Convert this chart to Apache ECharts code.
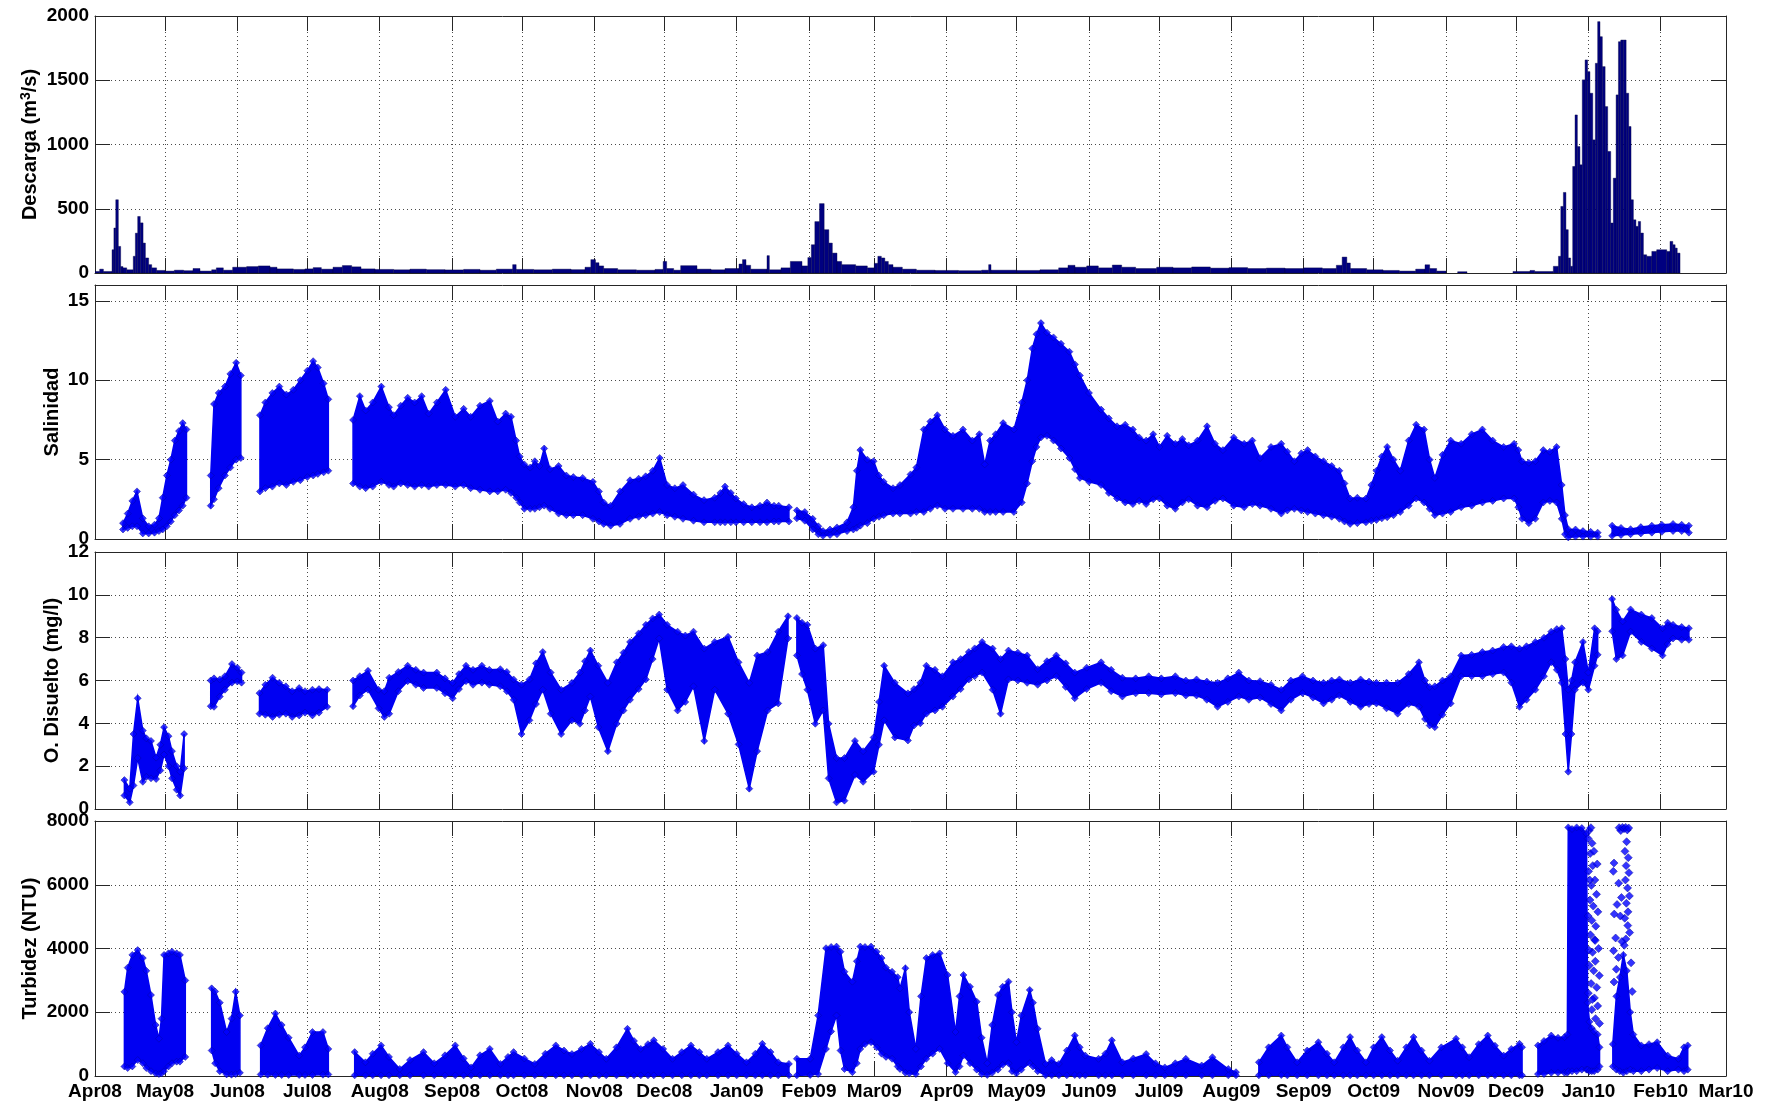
<!DOCTYPE html>
<html><head><meta charset="utf-8">
<script src="https://cdn.jsdelivr.net/npm/echarts@6/dist/echarts.min.js"></script>
<style>html,body{margin:0;padding:0;background:#fff}#c{width:1772px;height:1106px}</style>
</head><body><div id="c"></div>
<script>
// ---- x axis: days since 1 Apr 2008 ----
const monthDays = [0,30,61,91,122,153,183,214,244,275,306,334,365,395,426,456,487,518,548,579,609,640,671,699];
const monthLabels = ['Apr08','May08','Jun08','Jul08','Aug08','Sep08','Oct08','Nov08','Dec08','Jan09','Feb09','Mar09','Apr09','May09','Jun09','Jul09','Aug09','Sep09','Oct09','Nov09','Dec09','Jan10','Feb10','Mar10'];

// ---- y tick values ----
const dqTicks = [0,500,1000,1500,2000];
const salTicks = [0,5,10,15];
const odTicks = [0,2,4,6,8,10,12];
const tuTicks = [0,2000,4000,6000,8000];

// ---- Descarga: [start day, value] steps (each holds until next start) ----
const discharge = [[0,12],[2,30],[3.6,12],[7.3,181],[8.1,350],[8.9,570],[10,207],[11,50],[12,40],[13.6,25],[16.4,130],[17.3,310],[18.3,440],[19.4,390],[20.6,233],[21.6,117],[23,65],[24.3,40],[26.4,20],[30,15],[34,22],[38,18],[42,35],[45,15],[50,25],[52,40],[55,22],[59,45],[65,50],[70,55],[75,45],[78,32],[85,28],[90,32],[93.5,42],[97,30],[102,45],[106,58],[110,48],[114,32],[120,28],[128,25],[135,30],[142,26],[150,24],[158,28],[165,22],[172,30],[179,65],[180.5,28],[188,25],[196,30],[204,26],[210,45],[212.5,104],[214.5,80],[216,55],[218,35],[224,25],[232,22],[240,28],[243.5,90],[245,35],[248,22],[251,57],[258,30],[264,25],[270,35],[276,70],[277.5,104],[279,60],[281,30],[288,135],[289,25],[294,40],[298,90],[303,55],[305.5,120],[307,220],[308.5,400],[310.5,540],[312.5,337],[314.5,233],[316,155],[318,90],[320,65],[326,55],[331,40],[334,75],[335.5,130],[337,117],[338.5,90],[340,65],[342,45],[346,30],[352,22],[360,20],[370,18],[380,22],[383,65],[384,22],[395,20],[405,25],[413,40],[417,60],[420,45],[425,55],[430,40],[436,62],[440,45],[446,35],[455,45],[462,40],[470,47],[478,38],[486,42],[494,35],[502,38],[510,35],[518,40],[526,35],[532,60],[534.5,124],[536.5,78],[538,35],[545,25],[552,20],[559,15],[566,30],[570,64],[572,35],[575,15],[579,0],[584,10],[588,0],[607.7,12],[615,20],[617,12],[625,52],[627.2,130],[628.2,518],[629.3,627],[630.4,337],[631.4,117],[632.4,52],[633.3,829],[634.3,1230],[635.3,984],[636.4,842],[637.4,1503],[638.6,1658],[639.7,1567],[640.7,1399],[641.9,1036],[643,1632],[644,1956],[645,1839],[646,1606],[647.2,1295],[648.3,946],[649.6,389],[650.7,738],[651.9,1386],[652.9,1800],[653.9,1813],[655,1813],[656.2,1399],[657.3,1140],[658.3,570],[659.3,414],[660.4,363],[661.4,401],[662.4,311],[663.6,142],[665,130],[667.2,168],[669.3,181],[673.6,168],[675,246],[676.2,220],[677.2,194],[678.1,155],[679.3,0]];

// ---- Salinidad: [day, low, high]; null rows = gaps ----
const salinity = [[12,0.6,1.0],[14,0.7,1.6],[16,0.8,2.4],[18,0.8,3.0],[20.5,0.35,1.3],[23,0.35,0.8],[25.5,0.4,0.9],[27.4,0.5,1.3],[29,0.6,2.6],[30.8,0.8,4.0],[32.5,1.1,5.0],[34.2,1.5,6.2],[36,1.8,6.8],[37.6,2.1,7.3],[39.2,2.6,6.9],
[44,null,null],
[49.6,2.1,4.0],[51,2.5,8.5],[53,3.2,9.2],[55.7,4.0,9.6],[58,4.5,10.4],[60.5,5.0,11.1],[62.5,5.1,10.3],
[66,null,null],
[70.7,3.0,7.8],[73,3.2,8.6],[76,3.3,9.2],[79,3.5,9.6],[82,3.4,9.1],[85,3.6,9.4],[88,3.7,10.0],[91,3.9,10.6],[93.5,4.0,11.2],[95.5,4.1,10.8],[98,4.2,9.8],[100,4.3,8.8],
[105,null,null],
[110.6,3.5,7.5],[113.5,3.3,9.0],[116,3.2,8.1],[119,3.3,8.6],[122.7,3.6,9.6],[126,3.4,8.3],[128,3.3,7.8],[131,3.5,8.4],[134,3.4,8.9],[137,3.3,8.6],[140,3.4,9.0],[143,3.3,7.9],[146.5,3.4,8.6],[150.3,3.4,9.4],[154.4,3.3,7.7],[158,3.4,8.2],[161,3.2,7.7],[165,3.1,8.4],[169.2,3.0,8.7],[172.6,3.0,7.4],[176,3.1,7.9],[178.3,2.9,7.7],[180.5,2.6,6.2],
[182,2.3,5.2],[184,1.9,4.7],[186.5,1.9,4.5],[188.5,1.9,4.9],[190.5,2.0,4.6],[192.5,2.1,5.7],[195,1.9,4.4],[198.7,1.6,4.6],[202,1.5,4.0],[205,1.5,3.9],[209,1.5,3.85],[213.4,1.27,3.6],[216,1.1,3.0],[218,0.95,2.3],[221,0.84,2.1],[225,0.95,3.0],[229.3,1.27,3.7],[233,1.4,3.8],[236,1.5,3.95],[239,1.6,4.3],[242,1.7,5.1],[245.2,1.5,3.4],[248.5,1.4,3.2],[252,1.27,3.4],[256.5,1.15,2.8],[261,1.05,2.45],[265.6,1.05,2.6],[268,1.05,2.9],[270,1.05,3.3],[272.5,1.05,2.9],[274.7,1.05,2.55],[278,1.05,2.2],[281.5,1.05,2.0],[285,1.05,2.1],[288,1.05,2.3],[291,1.1,2.1],[293,1.1,2.1],[297.4,1.1,2.0],
[299,null,null],
[300.8,1.3,1.8],[304.2,1.15,1.7],[307.6,0.6,1.27],[310,0.3,0.8],[312,0.2,0.5],[315,0.25,0.6],[318,0.3,0.73],[322.3,0.5,1.05],[325,0.6,2.0],[326.5,0.7,4.3],[328,0.84,5.6],[331,1.0,5.0],[333.7,1.27,4.9],[336,1.4,4.0],[338,1.5,3.6],[342,1.6,3.2],[345,1.6,3.4],[349.5,1.6,4.07],[352,1.7,4.5],[355.2,1.7,6.9],[358,1.9,7.4],[361,2.1,7.8],[364.3,1.9,6.9],[367.7,1.9,6.5],[372,1.9,6.9],[376,1.9,6.2],[379,1.9,6.6],[381.3,1.7,4.7],[383.6,1.7,6.2],[386,1.7,6.6],[389.2,1.7,7.3],[393.8,1.7,6.9],[397.2,2.3,8.6],[399.5,3.5,10.0],[401.7,4.9,12.0],[403.5,5.8,12.9],[405.4,6.4,13.6],[408,6.5,13.0],[410.8,6.2,12.7],[414,5.7,12.3],[417.6,5.1,11.8],[420,4.4,11.0],[422.1,3.85,10.3],[426,3.6,9.2],[431.2,3.4,8.15],[434.5,2.9,7.6],[438,2.55,7.1],[441.5,2.3,7.2],[444.8,2.2,6.9],[447.5,2.4,6.4],[450.5,2.2,6.2],[453.5,2.5,6.6],[456.2,2.55,5.8],[459.5,2.1,6.5],[463,1.9,6.0],[466,2.3,6.3],[468.7,2.5,5.9],[472.5,2.1,6.2],[476.6,2.0,7.1],[480,2.4,6.0],[483.4,2.55,5.6],[488,2.1,6.4],[492.5,2.0,6.0],[496,2.2,6.2],[499.3,2.1,5.1],[504,1.9,5.8],[508.4,1.6,6.0],[511,1.8,5.5],[514,1.9,4.9],[517,1.8,5.4],[519.7,1.7,5.6],[523,1.6,5.2],[526.5,1.5,4.9],[530,1.4,4.6],[533.3,1.27,4.3],[535.5,1.1,3.5],[537.9,0.95,2.55],[541,1.0,2.6],[544.7,1.05,2.55],[547,1.15,3.4],[549.2,1.2,4.3],[551.5,1.3,5.2],[553.8,1.37,5.8],[556.5,1.5,5.0],[559.4,1.7,4.3],[563,2.1,6.2],[566.2,2.55,7.2],[569.6,2.3,6.9],[572,1.9,5.0],[574.2,1.5,3.85],[577.5,1.6,5.3],[581,1.7,6.2],[585.5,2.0,6.0],[590,2.1,6.6],[594.6,2.3,6.9],[599,2.4,6.2],[603.7,2.55,5.8],[608.2,2.55,6.0],[610,2.0,5.6],[611.6,1.27,4.9],[614.5,1.0,4.8],[617.3,1.27,4.9],[620.7,2.3,5.6],[623.5,2.4,5.5],[626.4,2.3,5.8],[628.6,1.27,3.4],[630,0.3,1.5],[631.4,0.1,0.62],[634.5,0.15,0.6],[637.7,0.15,0.5],[641,0.15,0.45],[644,0.15,0.4],
[647,null,null],
[650.2,0.2,0.84],[654,0.25,0.7],[658.1,0.3,0.62],[662.5,0.35,0.75],[667.2,0.4,0.84],[671.5,0.45,0.9],[676.3,0.5,0.95],[680,0.5,0.9],[683.1,0.4,0.84]];

// ---- O. Disuelto: [day, low, high] ----
const oxygen = [[12.6,0.63,1.35],[14.9,0.31,0.95],[16.5,1.1,3.5],[18.3,2.38,5.17],[20.5,1.27,3.66],[22,1.5,3.3],[24,1.43,3.18],[26.2,1.4,2.4],[28,1.8,3.0],[29.6,2.54,3.82],[31.5,2.0,3.4],[33,1.43,2.7],[35,0.9,2.0],[36.5,0.63,1.74],[38.2,1.9,3.5],
[44,null,null],
[49.6,4.8,6.0],[51,4.77,6.1],[53.5,5.25,6.05],[55.7,5.57,6.2],[58.7,5.9,6.77],[61,5.95,6.6],[62.8,5.9,6.37],
[66,null,null],
[70.5,4.45,5.41],[73,4.4,5.8],[76.1,4.3,6.13],[79,4.4,5.9],[81.8,4.45,5.73],[84.5,4.3,5.5],[87.5,4.37,5.65],[90,4.5,5.5],[93.2,4.37,5.57],[96,4.5,5.6],[99.5,4.77,5.57],
[105,null,null],
[110.6,4.8,6.0],[113.5,5.3,6.2],[117,5.57,6.45],[121.5,4.7,5.57],[124,4.3,5.5],[126.1,4.45,6.13],[130,5.5,6.4],[134,5.97,6.69],[137.5,5.8,6.5],[140.8,5.65,6.37],[146.5,5.65,6.37],[150,5.4,6.1],[153.3,5.17,5.89],[156,5.6,6.3],[159,5.97,6.69],[162,5.8,6.5],[165.8,5.9,6.69],[169,5.8,6.5],[173.7,5.73,6.53],[176.5,5.5,6.4],[179.4,5.1,6.05],[182.8,3.5,5.81],[186.2,4.14,6.05],[189,4.9,6.8],[191.9,5.57,7.33],[195.3,4.45,6.37],[199.8,3.5,5.57],[204.4,4.14,5.89],[207.8,3.98,6.37],[210,4.6,6.9],[212.3,5.25,7.4],[215.7,3.82,6.69],[219.8,2.7,5.89],[223.6,3.98,6.85],[226.5,4.6,7.3],[229.3,5.1,7.8],[233,5.6,8.2],[236.1,6.05,8.6],[239,7.0,8.9],[241.8,7.96,9.08],[245.2,5.57,8.6],[249.7,4.6,8.28],[253,5.0,8.1],[256.5,5.73,8.28],[261.1,3.18,7.49],[265.6,5.57,7.8],[271.3,4.45,8.04],[275.8,3.02,6.85],[280.4,0.95,5.89],[283.8,2.7,7.17],[288.3,4.6,7.33],[292.8,4.93,8.28],[297,7.96,9.0],
[299,null,null],
[300.8,7.17,8.92],[303,6.3,8.7],[305.3,5.57,8.6],[308.7,3.98,7.49],[312.1,4.6,7.65],[314.4,1.43,3.98],[317.8,0.31,2.38],[321.2,0.39,2.38],[325.7,1.59,3.18],[329.2,1.27,2.7],[333.7,1.74,3.34],[336,3.0,5.0],[338.2,4.14,6.69],[342.8,3.34,5.89],[348.4,3.2,5.4],[351,3.9,5.6],[353.7,4.0,5.89],[356.3,4.45,6.69],[360,4.6,6.5],[363.2,4.77,6.2],[367.7,5.25,6.85],[371,5.6,7.0],[374.5,6.05,7.33],[377,6.2,7.5],[380.2,6.37,7.8],[384.7,5.57,7.49],[388.1,4.45,7.0],[391.5,6.05,7.4],[395.5,6.0,7.3],[399.5,5.89,7.17],[404,5.8,6.53],[408,6.0,6.9],[412,6.2,7.17],[416,5.7,6.8],[419.9,5.17,6.37],[425,5.6,6.6],[431.2,5.89,6.85],[435.5,5.5,6.5],[440.3,5.25,6.13],[446,5.4,6.1],[451.6,5.41,6.2],[457,5.35,6.1],[463,5.41,6.2],[467.5,5.3,6.0],[472.1,5.3,6.05],[476.5,5.1,5.95],[481.1,4.77,5.89],[485.5,5.0,6.1],[490.2,5.25,6.37],[494.5,5.1,6.0],[499.3,5.2,5.97],[504,4.9,5.8],[508.4,4.6,5.57],[512.5,5.1,6.0],[517.5,5.41,6.2],[522,5.2,6.0],[526.5,4.93,5.89],[530,5.1,6.0],[533.3,5.3,6.05],[538,5.0,5.9],[542.4,4.77,6.05],[546,4.9,5.95],[549.2,4.93,5.89],[553.5,4.7,5.9],[558.3,4.45,5.89],[563,4.9,6.3],[567.4,4.77,6.85],[570,4.2,6.0],[572,3.9,5.7],[574.2,3.82,5.73],[577.5,4.4,6.0],[581,4.93,6.2],[585.5,6.2,7.17],[590,6.2,7.2],[594.6,6.2,7.33],[599,6.3,7.4],[603.7,6.37,7.57],[607,5.9,7.6],[610.5,4.77,7.49],[613.5,5.1,7.6],[617.3,5.57,7.8],[621,6.2,8.0],[624.1,6.85,8.28],[626.5,6.5,8.4],[628.6,5.89,8.44],[630.2,3.5,7.0],[631.4,1.74,5.57],[632.8,3.5,6.0],[634.3,5.57,6.85],[637.7,5.9,7.8],[640,5.57,6.37],[642.7,6.69,8.44],[644,7.2,8.3],
[647,null,null],
[650.2,8.3,9.8],[652,7.0,9.3],[654.7,7.17,8.76],[658.1,8.28,9.32],[662.7,7.8,9.08],[667.2,7.49,8.92],[671.8,7.17,8.44],[674,7.7,8.7],[676.3,7.96,8.6],[680,7.9,8.5],[683.1,7.9,8.44]];

// ---- Turbidez: [day, low, high] ----
const turbidity = [[12.6,300,2640],[14,250,3400],[16,300,3800],[18.3,500,3950],[20.5,400,3700],[22,250,3300],[24,150,2540],[26,80,1600],[27.4,60,1170],[28.5,80,1800],[29.6,150,3800],[31.5,300,3850],[33,400,3900],[35,450,3850],[36.4,450,3800],[38.7,600,3000],
[44,null,null],
[50,800,2750],[51.5,400,2650],[53.5,150,2300],[56.4,50,1380],[58.5,40,1800],[60.3,60,2640],[62.1,100,1900],
[66,null,null],
[71,50,960],[74,40,1500],[77.3,30,1960],[80,30,1600],[83,30,1200],[87.5,30,640],[90,30,900],[93.2,30,1380],[97.7,40,1380],[100,50,850],
[105,null,null],
[111.3,20,750],[115.9,20,430],[119,20,700],[122.6,20,960],[126,20,600],[130.6,20,220],[135,20,500],[140.8,20,750],[145.4,20,400],[150,20,650],[154.4,20,960],[158,20,550],[161.2,20,270],[165,20,650],[169.2,20,850],[173.7,20,380],[177,20,600],[179.4,20,750],[184,20,550],[188.5,20,380],[193,20,700],[197.5,20,960],[201,20,800],[204.4,20,690],[208.5,20,850],[212.3,20,1010],[216,20,750],[219.1,20,540],[223.5,20,900],[228.2,20,1480],[231,20,1100],[233.9,20,850],[237,20,1000],[239.5,20,1120],[243.5,20,850],[247.5,20,540],[251.5,20,750],[255.4,20,960],[259,20,750],[262.2,20,540],[267,20,750],[271.3,20,960],[275,20,700],[279.2,20,430],[283,20,700],[286,20,1010],[289.5,20,750],[292.8,20,430],[297.4,20,380],
[299,null,null],
[300.8,20,540],[306.5,30,540],[309.9,60,1900],[313.3,850,4010],[315.5,1400,4050],[317.8,1900,4060],[319.5,800,3900],[321.2,220,3270],[324.6,120,2960],[326.5,400,3600],[328,850,4060],[330,1000,4050],[332.6,1060,4060],[335,900,3900],[337.1,700,3700],[339,600,3400],[341.6,540,3270],[344,300,3100],[345,220,2750],[347.3,100,3380],[349,80,2000],[351.8,60,850],[354,300,2500],[356.3,540,3700],[359,700,3800],[362,850,3850],[365.4,400,3170],[368.8,120,1380],[370.5,300,2500],[372.2,640,3170],[375,400,2800],[377.9,200,2330],[380,60,1200],[382.4,30,400],[384.5,100,1600],[387,200,2540],[389,350,2800],[391.5,400,2960],[393,150,2000],[394.9,80,1060],[397,200,1900],[400.6,400,2700],[402,300,2300],[404,150,1480],[407.4,20,380],[410,20,500],[413.1,20,380],[416.5,20,800],[419.9,30,1270],[422,20,900],[424.4,20,640],[430.1,20,540],[433,20,700],[435.8,20,1120],[440.3,20,430],[445,20,550],[450.5,20,690],[454.5,20,400],[458.5,20,270],[463,20,400],[467.5,20,540],[474.3,20,330],[478.9,20,590],[485.7,20,220],[489,20,120],
[494,null,null],
[498.8,20,430],[503,20,900],[508.4,30,1270],[511,20,900],[515.2,20,430],[519.5,20,800],[524.3,20,1060],[528,20,700],[531.1,20,430],[535,20,900],[537.9,20,1220],[541,20,800],[544.7,20,430],[548,20,900],[551.5,20,1220],[555,20,800],[558.3,20,480],[562,20,900],[565.1,20,1220],[568.5,20,800],[571.9,20,480],[577,20,900],[583.3,20,1170],[586,20,900],[588.9,20,590],[593,20,1000],[596.9,20,1270],[600,20,950],[603.7,20,640],[607,20,850],[610.5,20,1010],[611.6,20,900],
[615,null,null],
[618.4,60,960],[621,60,1100],[624.1,100,1270],[627,100,1200],[629.8,100,1220],[631,100,1300],[631.4,150,7800],[633,150,7750],[635,150,7800],[637.2,200,7780],[639.2,200,7600],[639.7,200,2300],[640.5,150,1700],[641.5,150,1500],[642.5,150,1400],[644,200,1300],[644.8,300,900],
[647,null,null],
[650.5,300,1000],[652,200,2500],[653.5,150,3100],[655,100,3800],[656.5,150,3300],[658,200,2000],[659.3,150,1300],[662.7,150,960],[666,200,1000],[669.5,250,1060],[674,150,640],[678.6,200,540],[681,150,900],[682.6,200,960]];

// ---- Turbidez isolated points (Jan 2010 saturation): [day, value] ----
const turbidityPoints = [[640.3,7700],[641.1,7790],[639.9,7450],[641.6,7300],[640.8,6980],[642.4,7050],[641.9,6600],[640.1,6420],[642.8,6150],[641.3,5980],[643.5,5700],[640.7,5520],[642.1,5330],[644.1,5150],[639.9,5020],[641.5,4880],[643.2,4700],[640.9,4430],[642.7,4280],[644.4,4000],[641.8,3880],[643.0,3600],[640.4,3470],[642.3,3300],[644.7,3150],[641.2,2900],[643.6,2780],[640.0,2600],[642.6,2450],[644.0,2200],[641.5,2080],[643.1,1800],[644.8,1650],[642.9,4250],[640.6,6150],[643.8,6650],[640.2,3950],[641.7,2400],
[653.2,7790],[653.9,7700],[654.6,7800],[655.3,7760],[656.0,7800],[656.7,7720],[657.3,7780],[656.4,7350],[655.7,7050],[657.1,6850],[656.2,6600],[657.4,6380],[655.9,6150],[656.8,5900],[657.6,5650],[656.3,5420],[657.0,5150],[655.6,4950],[656.9,4720],[657.7,4500],[656.1,4300],[655.4,4100],
[651.0,6680],[650.7,6420],[652.3,5380],[651.1,5080],[653.7,5020],[651.7,4330],[650.8,3930],[652.9,3720],[654.4,4220],[652.0,3350],[651.0,2950],[658.3,3550],[658.8,2650],[653.0,6050],[654.2,5600]];

// ================= chart =================
const FONT = '"Liberation Sans", Arial, Helvetica, sans-serif';
const AX = '#262626';
const BLUE = '#0000f2';
const NAVY = '#000080';
const gridTops = [16, 285, 552, 821];
const gridHeights = [257, 254, 257, 255];
const yMax = [2000, 16, 12, 8000];
const yInt = [500, 5, 2, 2000];
const yTicks = [dqTicks, salTicks, odTicks, tuTicks];
const nameGaps = [54, 33, 33, 55];
const names = ['{a|Descarga (m}{b|3}{a|/s)}', 'Salinidad', 'O. Disuelto (mg/l)', 'Turbidez (NTU)'];

const grid = [], xAxis = [], yAxis = [];
const lineStyle = {color: AX, width: 1};
const gridLine = {show: true, lineStyle: {color: '#4a4a4a', width: 1, type: [1, 3]}};
for (let i = 0; i < 4; i++) {
  grid.push({left: 95, right: 46, top: gridTops[i], height: gridHeights[i], containLabel: false});
  xAxis.push({
    type: 'value', gridIndex: i, min: 0, max: 699, position: 'bottom',
    axisLine: {show: true, onZero: false, lineStyle},
    axisTick: {show: true, inside: true, length: 15, customValues: monthDays, lineStyle},
    axisLabel: {show: i === 3, customValues: monthDays, fontSize: 19, fontWeight: 'bold', color: '#000', fontFamily: FONT, margin: 6,
      formatter: v => { const k = monthDays.findIndex(d => Math.abs(d - v) < 0.5); return k >= 0 ? monthLabels[k] : ''; }},
    splitLine: gridLine
  });
  xAxis.push({
    type: 'value', gridIndex: i, min: 0, max: 699, position: 'top',
    axisLine: {show: true, onZero: false, lineStyle},
    axisTick: {show: true, inside: true, length: 15, customValues: monthDays, lineStyle},
    axisLabel: {show: false}, splitLine: {show: false}
  });
  yAxis.push({
    type: 'value', gridIndex: i, min: 0, max: yMax[i], interval: yInt[i], position: 'left',
    axisLine: {show: true, onZero: false, lineStyle},
    axisTick: {show: true, inside: true, length: 15, customValues: yTicks[i], lineStyle},
    axisLabel: {customValues: yTicks[i], fontSize: 19, fontWeight: 'bold', color: '#000', fontFamily: FONT, margin: 6,
      formatter: v => String(v)},
    splitLine: gridLine,
    name: names[i], nameLocation: 'middle', nameGap: nameGaps[i], nameMoveOverlap: false,
    nameTextStyle: {fontSize: 20, fontWeight: 'bold', color: '#000', fontFamily: FONT,
      rich: {a: {fontSize: 20, fontWeight: 'bold', color: '#000', fontFamily: FONT, lineHeight: 22},
             b: {fontSize: 14, fontWeight: 'bold', color: '#000', fontFamily: FONT, lineHeight: 14, verticalAlign: 'top'}}}
  });
  yAxis.push({
    type: 'value', gridIndex: i, min: 0, max: yMax[i], interval: yInt[i], position: 'right',
    axisLine: {show: true, onZero: false, lineStyle},
    axisTick: {show: true, inside: true, length: 15, customValues: yTicks[i], lineStyle},
    axisLabel: {show: false}, splitLine: {show: false}
  });
}

// discharge bars (step rectangles)
const dqBars = [];
for (let k = 0; k < discharge.length - 1; k++) dqBars.push([discharge[k][0], discharge[k + 1][0], discharge[k][1]]);

function bandSeries(rows, gi) {
  return {
    type: 'custom', xAxisIndex: 2 * gi, yAxisIndex: 2 * gi, data: [[rows[0][0], 0]], clip: true, silent: true,
    encode: {x: 0, y: 1},
    renderItem(params, api) {
      const children = [];
      let run = [];
      const flush = () => {
        if (run.length > 1) {
          const pts = [];
          for (const r of run) pts.push(api.coord([r[0], r[2]]));
          for (let k = run.length - 1; k >= 0; k--) pts.push(api.coord([run[k][0], run[k][1]]));
          children.push({type: 'polygon', shape: {points: pts}, style: {fill: BLUE, stroke: BLUE, lineWidth: 1.5}});
        }
        run = [];
      };
      for (const r of rows) { if (r[1] == null) flush(); else run.push(r); }
      flush();
      return {type: 'group', children};
    }
  };
}
function edgeSeries(rows, gi) {
  const pts = [];
  for (const r of rows) { if (r[1] == null) continue; pts.push([r[0], r[2]]); pts.push([r[0], r[1]]); }
  return {type: 'scatter', xAxisIndex: 2 * gi, yAxisIndex: 2 * gi, data: pts, symbol: 'diamond', symbolSize: 7, silent: true,
    itemStyle: {color: '#0000ff', borderColor: '#00009a', borderWidth: 0.6}, clip: true};
}

const series = [
  {
    type: 'custom', xAxisIndex: 0, yAxisIndex: 0, data: dqBars, clip: true, silent: true,
    encode: {x: [0, 1], y: 2},
    renderItem(params, api) {
      const v = api.value(2);
      if (!v) return null;
      const a = api.coord([api.value(0), 0]);
      const b = api.coord([api.value(1), v]);
      return {type: 'rect', shape: {x: a[0], y: b[1], width: Math.max(b[0] - a[0], 1), height: a[1] - b[1]},
        style: {fill: NAVY, stroke: '#000040', lineWidth: 0.4}};
    }
  },
  bandSeries(salinity, 1), edgeSeries(salinity, 1),
  bandSeries(oxygen, 2), edgeSeries(oxygen, 2),
  bandSeries(turbidity, 3), edgeSeries(turbidity, 3),
  {type: 'scatter', xAxisIndex: 6, yAxisIndex: 6, data: turbidityPoints, symbol: 'diamond', symbolSize: 8, silent: true,
    itemStyle: {color: '#0000ff', borderColor: '#00009a', borderWidth: 0.6}}
];

const chart = echarts.init(document.getElementById('c'), null, {renderer: 'canvas'});
chart.setOption({animation: false, backgroundColor: '#fff', grid, xAxis, yAxis, series});
</script></body></html>
